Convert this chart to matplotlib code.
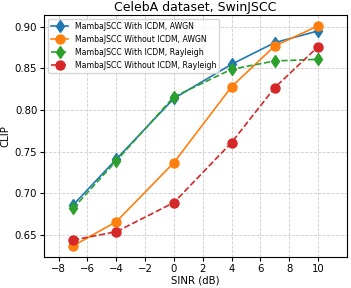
import matplotlib
matplotlib.use("Agg")
import matplotlib.pyplot as plt

sinr = [-7, -4, 0, 4, 7, 10]
awgn_icdm = [0.686, 0.741, 0.814, 0.855, 0.881, 0.895]
awgn_no = [0.637, 0.666, 0.737, 0.828, 0.877, 0.901]
ray_icdm = [0.682, 0.739, 0.816, 0.849, 0.859, 0.861]
ray_no = [0.644, 0.654, 0.689, 0.761, 0.827, 0.876]
labels = ["MambaJSCC With ICDM, AWGN", "MambaJSCC Without ICDM, AWGN",
          "MambaJSCC With ICDM, Rayleigh", "MambaJSCC Without ICDM, Rayleigh"]

fig = plt.figure(figsize=(3.51, 2.88), dpi=100)
ax = fig.add_axes([0.126, 0.108, 0.862, 0.84])
ax.plot(sinr, awgn_icdm, '-d', color='#1f77b4', markersize=6.5, lw=1.2, label=labels[0])
ax.plot(sinr, awgn_no, '-o', color='#ff7f0e', markersize=6.5, lw=1.2, label=labels[1])
ax.plot(sinr, ray_icdm, '--d', color='#2ca02c', markersize=6.5, lw=1.2, label=labels[2])
ax.plot(sinr, ray_no, '--o', color='#d62728', markersize=6.5, lw=1.2, label=labels[3])
ax.set_xlim(-9, 12)
ax.set_xticks([-8, -6, -4, -2, 0, 2, 4, 6, 8, 10])
ax.set_yticks([0.65, 0.70, 0.75, 0.80, 0.85, 0.90])
ax.tick_params(labelsize=7.3, length=3, pad=2)
ax.grid(True, linestyle='--', color='#cccccc', lw=0.6)
ax.set_xlabel("SINR (dB)", fontsize=7.3, labelpad=1)
ax.set_ylabel("CLIP", fontsize=7.3, labelpad=3)
ax.set_title("CelebA dataset, SwinJSCC", fontsize=9, pad=3)
ax.legend(fontsize=5.6, loc='upper left', handlelength=2.2, borderpad=0.4, labelspacing=0.5)
fig.savefig("out.png", dpi=100)
